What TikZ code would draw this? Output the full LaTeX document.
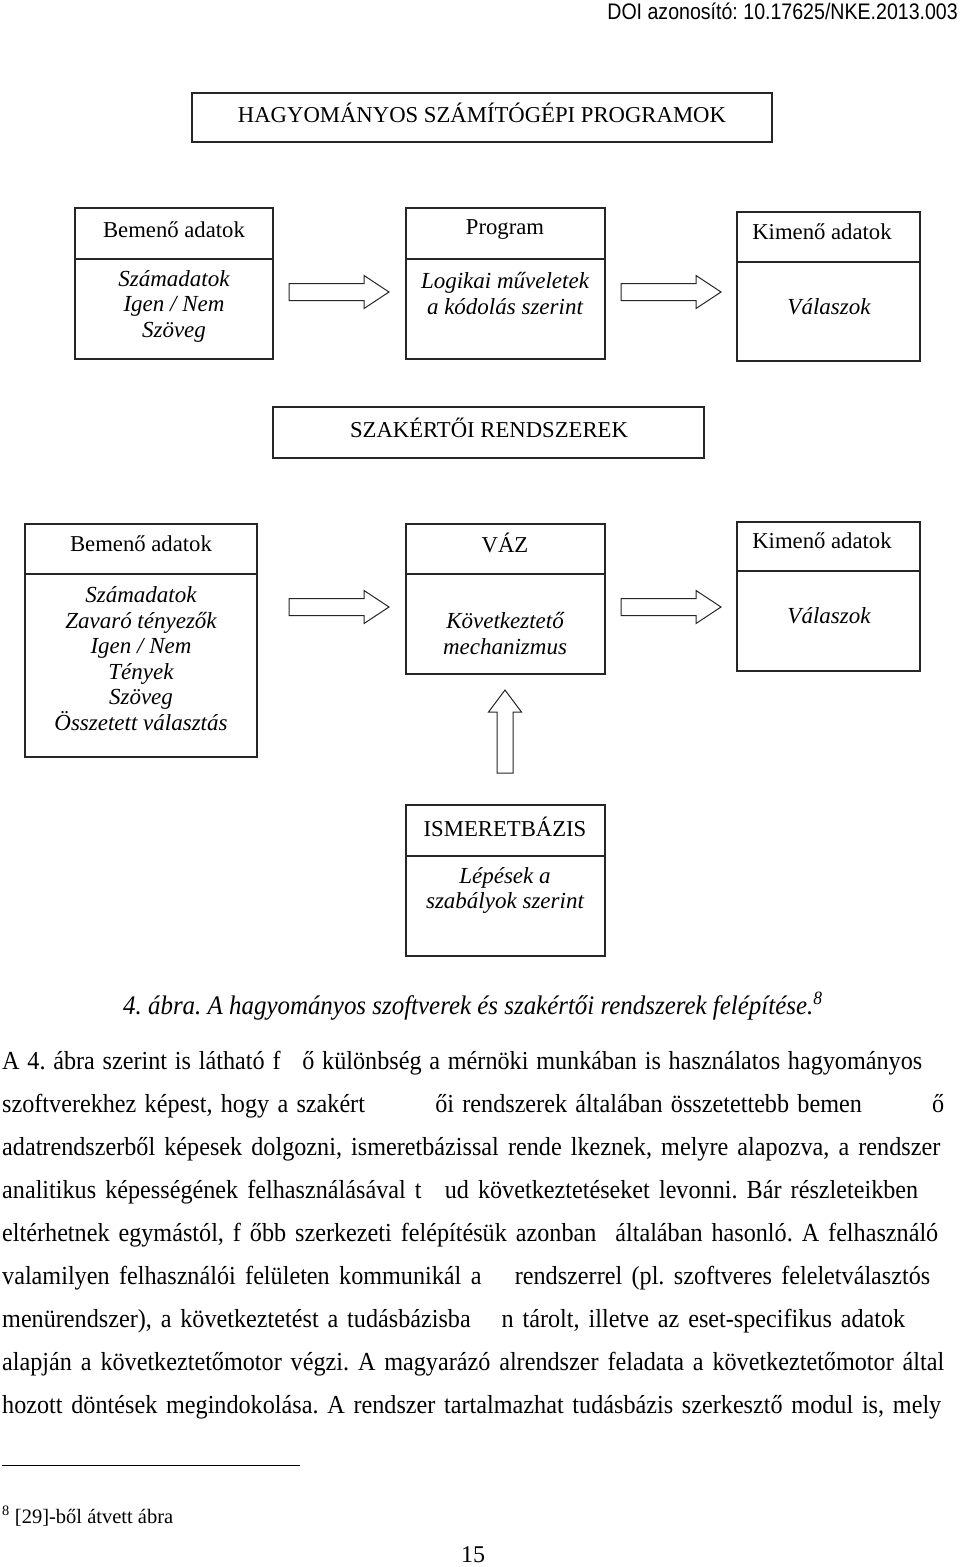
\documentclass[tikz,border=0pt]{standalone}
\usepackage{fontspec}
\setmainfont{Liberation Serif}
\newfontfamily\bodyfont[FakeStretch=0.93]{Liberation Serif}
\newfontfamily\hdrfont[FakeStretch=0.87]{Liberation Sans}
\usetikzlibrary{calc}
\frenchspacing
\tikzset{
  bx/.style={draw=black!85, line width=1.1pt, anchor=north west, inner sep=0pt, outer sep=0pt},
  dg/.style={font=\fontsize{22.7}{25.5}\selectfont, inner sep=0pt, align=center},
  dgi/.style={font=\fontsize{23}{25.5}\selectfont\itshape, inner sep=0pt, align=center},
  para/.style={font=\fontsize{26}{28}\bodyfont, inner sep=0pt, anchor=base west},
  arr/.style={draw=black!85, line width=1pt, fill=white},
  rarrow/.pic={\draw[arr] (0,-8.5) -- (75,-8.5) -- (75,-16.5) -- (100,0) -- (75,16.5) -- (75,8.5) -- (0,8.5) -- cycle;},
  uarrow/.pic={\draw[arr] (-8,0) -- (-8,-61) -- (-16.5,-61) -- (0,-83) -- (16.5,-61) -- (8,-61) -- (8,0) -- cycle;}
}
\begin{document}
\frenchspacing
\begin{tikzpicture}[x=1pt,y=-1pt]
\useasboundingbox[fill=white] (0,0) rectangle (960,1567);
% header
\node[anchor=east, inner sep=0pt, font=\fontsize{22.5}{24}\hdrfont] (doi) at (958,11) {DOI azonosító: 10.17625/NKE.2013.003};

% ---- top part
\node[bx, minimum width=580pt, minimum height=49pt] (t1) at (192,93) {};
\node[dg] (t1txt) at (482,113) {HAGYOMÁNYOS SZÁMÍTÓGÉPI PROGRAMOK};

\node[bx, minimum width=198pt, minimum height=151pt] (b1) at (75,208) {};
\draw[black!85, line width=1.1pt] ($(b1.north west)+(0,51)$) -- ($(b1.north east)+(0,51)$);
\node[dg] (b1h) at (174,230) {Bemenő adatok};
\node[dgi] (b1b) at (174,306) {Számadatok\\Igen / Nem\\Szöveg};

\node[bx, minimum width=199pt, minimum height=151pt] (p1) at (406,208) {};
\draw[black!85, line width=1.1pt] ($(p1.north west)+(0,51)$) -- ($(p1.north east)+(0,51)$);
\node[dg] (p1h) at (505,230) {Program};
\node[dgi] (p1b) at (505,293.5) {Logikai műveletek\\a kódolás szerint};

\node[bx, minimum width=183pt, minimum height=149pt] (k1) at (737,212) {};
\draw[black!85, line width=1.1pt] ($(k1.north west)+(0,50)$) -- ($(k1.north east)+(0,50)$);
\node[dg] (k1h) at (822,232) {Kimenő adatok};
\node[dgi] (k1b) at (829,307) {Válaszok};

\pic at (289,292) {rarrow};
\pic at (621,292) {rarrow};

% ---- expert systems
\node[bx, minimum width=431pt, minimum height=51pt] (t2) at (273,407) {};
\node[dg] (t2txt) at (489,428) {SZAKÉRTŐI RENDSZEREK};

\node[bx, minimum width=232pt, minimum height=233pt] (b2) at (25,524) {};
\draw[black!85, line width=1.1pt] ($(b2.north west)+(0,50)$) -- ($(b2.north east)+(0,50)$);
\node[dg] (b2h) at (141,544) {Bemenő adatok};
\node[dgi] (b2b) at (141,658.5) {Számadatok\\Zavaró tényezők\\Igen / Nem\\Tények\\Szöveg\\Összetett választás};

\node[bx, minimum width=199pt, minimum height=150pt] (v) at (406,524) {};
\draw[black!85, line width=1.1pt] ($(v.north west)+(0,50)$) -- ($(v.north east)+(0,50)$);
\node[dg] (vh) at (505,543) {VÁZ};
\node[dgi] (vb) at (505,633.5) {Következtető\\mechanizmus};

\node[bx, minimum width=183pt, minimum height=149pt] (k2) at (737,522) {};
\draw[black!85, line width=1.1pt] ($(k2.north west)+(0,49)$) -- ($(k2.north east)+(0,49)$);
\node[dg] (k2h) at (822,541) {Kimenő adatok};
\node[dgi] (k2b) at (829,616) {Válaszok};

\pic at (289,607) {rarrow};
\pic at (621,607) {rarrow};
\pic at (505,773) {uarrow};

\node[bx, minimum width=199pt, minimum height=151pt] (ism) at (406,805) {};
\draw[black!85, line width=1.1pt] ($(ism.north west)+(0,51)$) -- ($(ism.north east)+(0,51)$);
\node[dg] (ismh) at (505,827) {ISMERETBÁZIS};
\node[dgi] (ismb) at (505,890.5) {Lépések a\\szabályok szerint};

% caption
\node[para, font=\fontsize{26.8}{28}\bodyfont\itshape] (cap) at (123,1014) {4. ábra. A hagyományos szoftverek és szakértői rendszerek felépítése.\textsuperscript{8}};

% paragraph
\node[para] (l1) at (2,1069) {\makebox[920pt][s]{A 4. ábra szerint is látható f\hspace{14pt} ő különbség a mérnöki munkában is használatos hagyományos}};
\node[para] (l2) at (2,1112) {\makebox[942pt][s]{szoftverekhez képest, hogy a szakért\hspace{62pt} ői rendszerek általában összetettebb bemen\hspace{62pt} ő}};
\node[para] (l3) at (2,1155) {\makebox[938pt][s]{adatrendszerből képesek dolgozni, ismeretbázissal rende lkeznek, melyre alapozva, a rendszer}};
\node[para] (l4) at (2,1198) {\makebox[916pt][s]{analitikus képességének felhasználásával t\hspace{14pt} ud következtetéseket levonni. Bár részleteikben}};
\node[para] (l5) at (2,1241) {\makebox[936pt][s]{eltérhetnek egymástól, f őbb szerkezeti felépítésük azonban\hspace{10pt} általában hasonló. A felhasználó}};
\node[para] (l6) at (2,1284) {\makebox[928pt][s]{valamilyen felhasználói felületen kommunikál a\hspace{24pt} rendszerrel (pl. szoftveres feleletválasztós}};
\node[para] (l7) at (2,1327) {\makebox[903pt][s]{menürendszer), a következtetést a tudásbázisba\hspace{22pt} n tárolt, illetve az eset-specifikus adatok}};
\node[para] (l8) at (2,1370) {\makebox[942pt][s]{alapján a következtetőmotor végzi. A magyarázó alrendszer feladata a következtetőmotor által}};
\node[para] (l9) at (2,1413) {\makebox[939pt][s]{hozott döntések megindokolása. A rendszer tartalmazhat tudásbázis szerkesztő modul is, mely}};

% footnote
\coordinate (fr1) at (2,1465);
\coordinate (fr2) at (300,1465);
\draw[line width=0.9pt] (fr1) -- (fr2);
\node[para, font=\fontsize{20.5}{22}\selectfont] (fn) at (2,1523) {\textsuperscript{8} [29]-ből átvett ábra};
\node[inner sep=0pt, font=\fontsize{24}{26}\selectfont] (pg) at (473,1555) {15};
\end{tikzpicture}
\end{document}
